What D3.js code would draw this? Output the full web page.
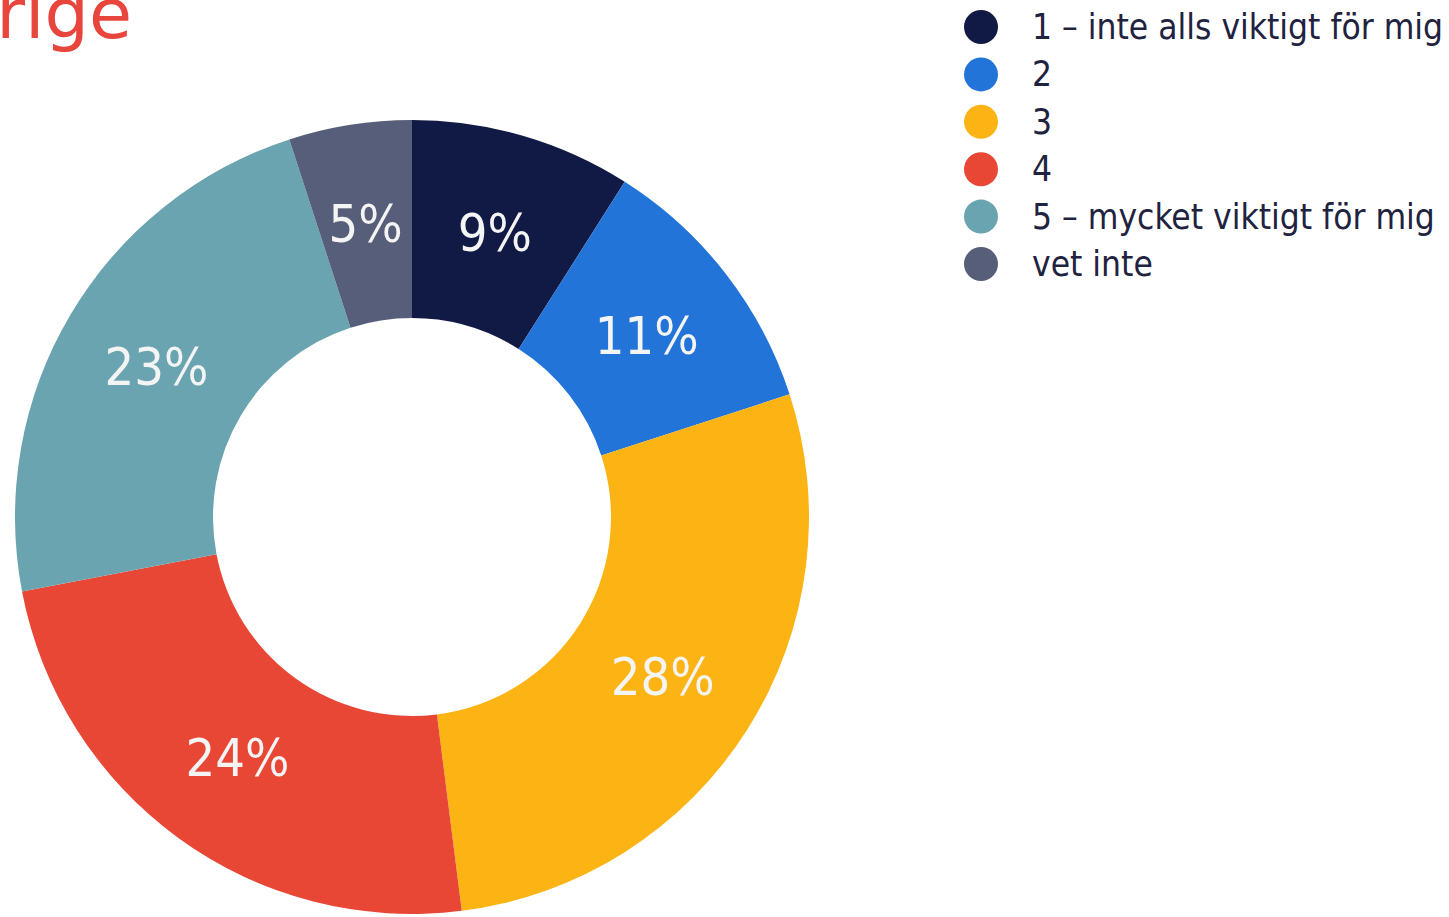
<!DOCTYPE html>
<html>
<head>
<meta charset="utf-8">
<script src="https://cdn.jsdelivr.net/npm/d3@7"></script>
<style>
  html, body { margin: 0; padding: 0; background: #fff; overflow: hidden; }
  svg { display: block; font-family: "DejaVu Sans Condensed", "DejaVu Sans", sans-serif; }
</style>
</head>
<body>
<svg id="chart" width="1449" height="917"></svg>
<script>
// Answer categories and shares (%)
const categories = ['1 – inte alls viktigt för mig', '2', '3', '4', '5 – mycket viktigt för mig', 'vet inte'];
const shares = [9, 11, 28, 24, 23, 5];
const colors = ['#111a45', '#2274d9', '#fbb414', '#e84736', '#6aa4b0', '#565e7a'];
const titleText = 'Sverige';

const svg = d3.select('#chart');

// Title (cut off at the left edge, as in the original)
svg.append('text')
    .attr('x', 132)
    .attr('y', 38)
    .attr('text-anchor', 'end')
    .style('fill', '#e8453c')
    .style('font-size', '70px')
    .style('font-family', '"DejaVu Sans", sans-serif')
    .text(titleText);

// Donut
const cx = 412, cy = 517;
const outerR = 397, innerR = 199;

const pie = d3.pie().sort(null).value(d => d);
const arc = d3.arc().innerRadius(innerR).outerRadius(outerR);
const labelArc = d3.arc().innerRadius(297).outerRadius(297);

const g = svg.append('g').attr('transform', `translate(${cx},${cy})`);
const arcs = pie(shares);

g.selectAll('path.slice')
    .data(arcs)
    .enter()
    .append('path')
    .attr('class', 'slice')
    .attr('d', arc)
    .attr('fill', (d, i) => colors[i])
    .attr('stroke', 'none');

g.selectAll('text.pct')
    .data(arcs)
    .enter()
    .append('text')
    .attr('class', 'pct')
    .attr('transform', d => `translate(${labelArc.centroid(d)})`)
    .attr('text-anchor', 'middle')
    .attr('dy', '0.36em')
    .style('fill', '#f4f4f4')
    .style('font-size', '52px')
    .text(d => d.data + '%');

// Legend
const legend = svg.append('g').attr('transform', 'translate(981, 27)');
categories.forEach((c, i) => {
    const item = legend.append('g').attr('transform', `translate(0, ${i * 47.4})`);
    item.append('circle')
        .attr('r', 17)
        .attr('fill', colors[i]);
    item.append('text')
        .attr('x', 51)
        .attr('y', 12)
        .style('fill', '#1f2340')
        .style('font-size', '35px')
        .text(c);
});
</script>
</body>
</html>
